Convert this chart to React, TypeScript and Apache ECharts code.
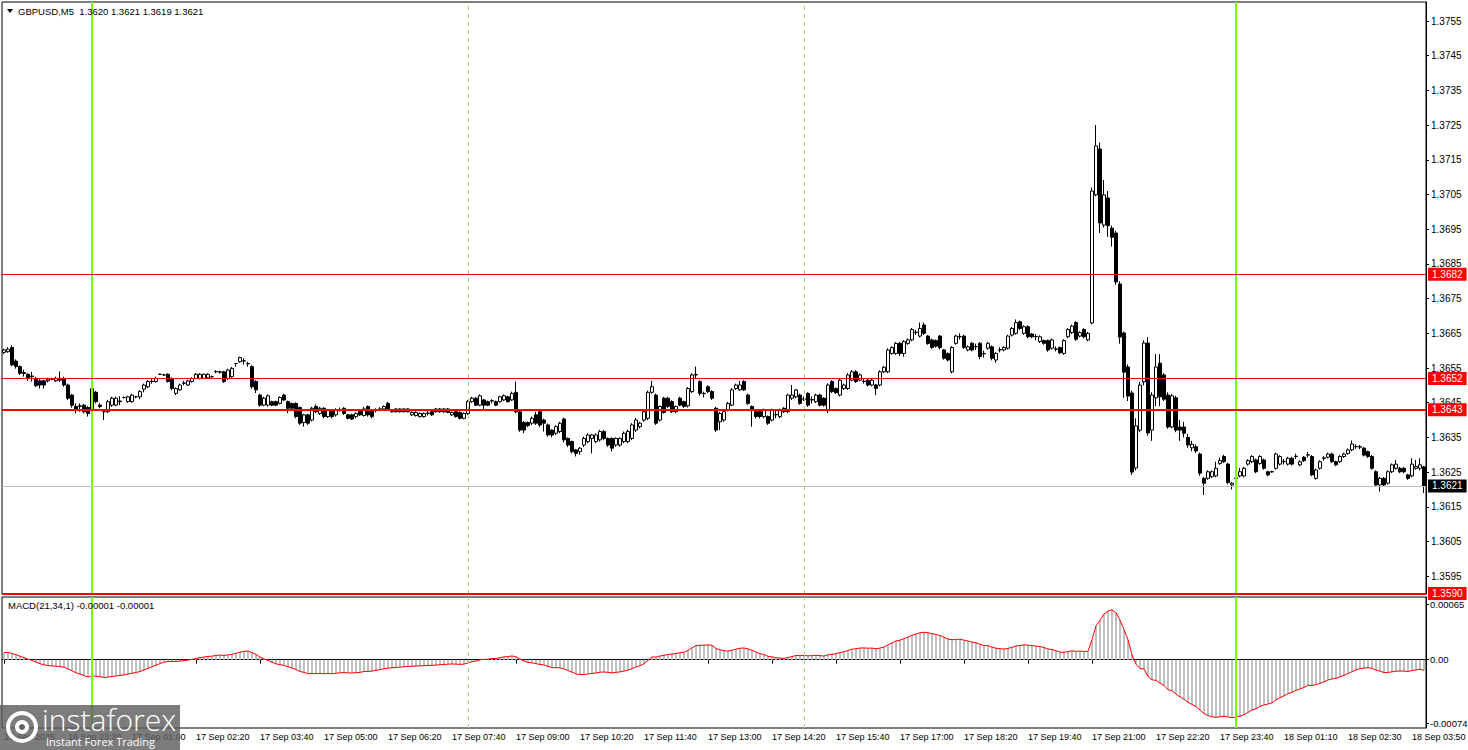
import React, { useEffect, useRef } from "react";
import * as echarts from "echarts";

// [open, close, low, high] per 5-minute bar, GBPUSD M5
const candles: number[][] = [
  [1.36595, 1.36602, 1.3659, 1.36606], [1.36597, 1.36604, 1.36594, 1.3661], [1.36609, 1.36559, 1.36555, 1.36615], [1.3657, 1.36554, 1.36548, 1.36575],
  [1.36554, 1.36535, 1.3653, 1.36558], [1.36537, 1.36534, 1.36525, 1.36545], [1.36532, 1.36522, 1.36513, 1.36535], [1.36525, 1.36527, 1.36511, 1.36539],
  [1.3652, 1.36499, 1.36495, 1.36525], [1.36513, 1.36501, 1.36491, 1.36518], [1.36513, 1.36501, 1.36491, 1.36516], [1.36513, 1.36518, 1.36508, 1.36522],
  [1.36518, 1.36518, 1.36515, 1.36522], [1.36513, 1.3652, 1.3651, 1.36525], [1.3652, 1.36515, 1.3651, 1.3654], [1.3652, 1.36501, 1.36496, 1.36525],
  [1.36501, 1.36463, 1.36458, 1.36505], [1.36472, 1.36443, 1.36436, 1.36475], [1.36439, 1.36432, 1.36419, 1.36448], [1.36441, 1.3644, 1.36424, 1.36448],
  [1.36443, 1.36424, 1.36419, 1.36446], [1.36436, 1.36419, 1.3641, 1.3644], [1.36429, 1.36491, 1.3642, 1.36495], [1.3648, 1.36453, 1.36448, 1.36484],
  [1.36443, 1.36439, 1.36434, 1.36448], [1.36424, 1.36424, 1.364, 1.36426], [1.36424, 1.36453, 1.3642, 1.36458], [1.36443, 1.36463, 1.36438, 1.36467],
  [1.36443, 1.36463, 1.3644, 1.36467], [1.36455, 1.36453, 1.36443, 1.36469], [1.36465, 1.36465, 1.36462, 1.36468], [1.36453, 1.36467, 1.3645, 1.3647],
  [1.36453, 1.36472, 1.3645, 1.36476], [1.36467, 1.36467, 1.36463, 1.3647], [1.36467, 1.36482, 1.3646, 1.36486], [1.36489, 1.36501, 1.3648, 1.36505],
  [1.36496, 1.36511, 1.36492, 1.36515], [1.36511, 1.36512, 1.36505, 1.36518], [1.36511, 1.3652, 1.36508, 1.36525], [1.36532, 1.36532, 1.3653, 1.36534],
  [1.3653, 1.3653, 1.36528, 1.36533], [1.36532, 1.36511, 1.36508, 1.36535], [1.3652, 1.36491, 1.36486, 1.36523], [1.36477, 1.36491, 1.36472, 1.36494],
  [1.36487, 1.36501, 1.36484, 1.36505], [1.36506, 1.36507, 1.365, 1.36513], [1.36501, 1.36513, 1.36498, 1.36516], [1.36511, 1.3652, 1.36508, 1.36523],
  [1.3652, 1.36532, 1.36518, 1.36535], [1.3652, 1.36532, 1.36517, 1.36535], [1.3652, 1.36532, 1.36518, 1.36534], [1.36522, 1.36532, 1.3652, 1.36535],
  [1.36525, 1.36525, 1.36522, 1.36528], [1.36539, 1.3654, 1.36535, 1.36544], [1.36539, 1.36538, 1.36534, 1.36542], [1.36539, 1.36511, 1.36507, 1.36542],
  [1.3652, 1.36544, 1.36515, 1.36548], [1.36525, 1.36549, 1.36522, 1.36553], [1.36563, 1.36563, 1.36554, 1.36565], [1.36568, 1.3658, 1.36565, 1.36583],
  [1.3657, 1.36571, 1.3656, 1.36578], [1.36563, 1.36562, 1.36554, 1.36568], [1.36554, 1.36496, 1.3649, 1.36558], [1.36511, 1.36487, 1.36478, 1.36515],
  [1.36472, 1.36443, 1.36438, 1.36476], [1.36443, 1.36463, 1.3644, 1.36467], [1.36443, 1.3647, 1.36439, 1.36474], [1.36453, 1.36443, 1.3644, 1.36456],
  [1.36453, 1.36443, 1.3644, 1.36456], [1.36448, 1.36465, 1.36445, 1.36468], [1.36472, 1.36458, 1.36455, 1.36476], [1.36453, 1.36434, 1.3642, 1.36456],
  [1.36448, 1.36434, 1.3643, 1.3645], [1.36448, 1.3641, 1.36405, 1.36451], [1.36436, 1.36391, 1.36386, 1.36439], [1.36393, 1.36415, 1.36381, 1.36418],
  [1.36415, 1.36391, 1.36386, 1.36418], [1.364, 1.36434, 1.36396, 1.36438], [1.36439, 1.36424, 1.3642, 1.36445], [1.36419, 1.36434, 1.36415, 1.36438],
  [1.36434, 1.3641, 1.36405, 1.36437], [1.3641, 1.36429, 1.36406, 1.36432], [1.36429, 1.3641, 1.36405, 1.36432], [1.36415, 1.36429, 1.3641, 1.36434],
  [1.36429, 1.3643, 1.36424, 1.36436], [1.36434, 1.36419, 1.36415, 1.36437], [1.36415, 1.36405, 1.36402, 1.36418], [1.36415, 1.36403, 1.364, 1.36418],
  [1.3641, 1.36419, 1.36405, 1.36422], [1.36429, 1.36415, 1.36412, 1.36432], [1.36413, 1.36432, 1.3641, 1.36438], [1.36439, 1.36415, 1.3641, 1.36442],
  [1.36429, 1.3641, 1.36405, 1.36432], [1.36429, 1.3643, 1.36422, 1.36434], [1.36432, 1.36431, 1.36426, 1.36437], [1.36432, 1.36439, 1.36429, 1.36442],
  [1.36448, 1.36432, 1.36429, 1.36452], [1.36424, 1.36424, 1.36422, 1.36426], [1.36432, 1.36424, 1.36422, 1.36434], [1.36432, 1.36424, 1.36422, 1.36434],
  [1.36432, 1.36424, 1.36422, 1.36434], [1.36432, 1.36424, 1.36422, 1.36434], [1.36415, 1.36422, 1.36412, 1.36425], [1.36413, 1.36422, 1.3641, 1.36425],
  [1.3641, 1.36419, 1.36407, 1.36422], [1.3641, 1.36419, 1.36407, 1.36422], [1.36419, 1.3642, 1.36413, 1.36426], [1.36424, 1.36415, 1.36412, 1.36427],
  [1.36432, 1.36424, 1.36421, 1.36435], [1.36432, 1.36424, 1.36421, 1.36435], [1.36432, 1.36424, 1.36421, 1.36435], [1.36432, 1.36422, 1.3642, 1.36435],
  [1.36415, 1.36422, 1.36412, 1.36425], [1.36424, 1.3641, 1.36407, 1.36427], [1.36422, 1.36405, 1.36402, 1.36425], [1.36405, 1.36419, 1.36402, 1.36422],
  [1.36419, 1.36453, 1.36415, 1.36458], [1.36453, 1.36463, 1.3645, 1.36467], [1.36463, 1.36443, 1.3644, 1.36466], [1.36443, 1.3647, 1.3644, 1.36474],
  [1.36458, 1.36443, 1.3643, 1.36461], [1.36453, 1.36443, 1.3644, 1.36456], [1.36455, 1.36456, 1.36448, 1.3646], [1.36453, 1.36443, 1.3644, 1.36456],
  [1.36453, 1.36467, 1.3645, 1.3647], [1.36458, 1.3647, 1.36455, 1.36474], [1.36467, 1.36453, 1.3645, 1.3647], [1.36458, 1.36477, 1.36455, 1.36482],
  [1.3648, 1.36424, 1.3642, 1.36511], [1.36424, 1.36371, 1.36366, 1.36428], [1.36393, 1.36371, 1.36362, 1.36397], [1.36393, 1.36384, 1.3638, 1.36396],
  [1.36391, 1.36405, 1.36386, 1.3641], [1.36415, 1.36391, 1.36386, 1.36424], [1.36424, 1.36386, 1.3638, 1.36428], [1.364, 1.36391, 1.36367, 1.36404],
  [1.36386, 1.36357, 1.36352, 1.3639], [1.36371, 1.36357, 1.3635, 1.36374], [1.36362, 1.36381, 1.36357, 1.36385], [1.36367, 1.36391, 1.36362, 1.36395],
  [1.36403, 1.36343, 1.36335, 1.36407], [1.36347, 1.36328, 1.36322, 1.3635], [1.36338, 1.36309, 1.36304, 1.36341], [1.36314, 1.36304, 1.36295, 1.36317],
  [1.36309, 1.36319, 1.363, 1.36322], [1.36328, 1.36347, 1.36322, 1.36352], [1.36338, 1.36357, 1.36333, 1.36362], [1.36347, 1.36357, 1.36304, 1.3636],
  [1.36338, 1.36357, 1.36333, 1.36362], [1.36343, 1.36367, 1.36338, 1.36372], [1.36367, 1.36347, 1.36342, 1.36372], [1.36347, 1.36328, 1.36323, 1.3635],
  [1.36347, 1.36319, 1.3631, 1.3635], [1.36328, 1.36347, 1.36323, 1.3635], [1.36328, 1.36347, 1.36323, 1.3635], [1.36338, 1.36362, 1.36333, 1.36367],
  [1.36338, 1.36367, 1.36333, 1.36372], [1.36347, 1.36386, 1.36342, 1.36391], [1.36371, 1.364, 1.36366, 1.36406], [1.36381, 1.36391, 1.36376, 1.36395],
  [1.364, 1.36424, 1.36395, 1.36428], [1.36405, 1.3648, 1.364, 1.36485], [1.3648, 1.36496, 1.36476, 1.36513], [1.36472, 1.36391, 1.36386, 1.36476],
  [1.364, 1.36439, 1.36396, 1.36442], [1.36463, 1.36422, 1.36418, 1.36467], [1.36463, 1.36439, 1.36435, 1.36467], [1.36453, 1.36424, 1.3642, 1.36457],
  [1.36424, 1.36439, 1.3642, 1.36442], [1.36463, 1.36443, 1.3644, 1.36467], [1.36453, 1.36439, 1.36435, 1.36456], [1.36441, 1.36491, 1.36436, 1.36495],
  [1.36482, 1.3653, 1.36478, 1.36535], [1.3653, 1.36531, 1.3652, 1.36554], [1.36511, 1.36477, 1.3647, 1.36515], [1.36477, 1.36476, 1.36465, 1.36482],
  [1.36496, 1.36482, 1.36478, 1.365], [1.36482, 1.36463, 1.36458, 1.36486], [1.36434, 1.36371, 1.36366, 1.36438], [1.36395, 1.36419, 1.36371, 1.36424],
  [1.364, 1.36424, 1.36395, 1.36428], [1.36429, 1.36448, 1.36425, 1.36452], [1.36443, 1.36487, 1.3644, 1.36492], [1.36491, 1.36501, 1.36487, 1.36505],
  [1.36487, 1.36501, 1.36484, 1.36513], [1.36511, 1.36487, 1.36484, 1.36515], [1.36472, 1.36448, 1.36444, 1.36476], [1.36439, 1.36429, 1.36381, 1.36442],
  [1.36424, 1.3641, 1.36405, 1.36427], [1.36424, 1.3641, 1.36405, 1.36427], [1.3641, 1.36429, 1.36405, 1.36433], [1.3641, 1.36391, 1.36386, 1.36413],
  [1.364, 1.36429, 1.36396, 1.36433], [1.36415, 1.36416, 1.36405, 1.36429], [1.3641, 1.36429, 1.36405, 1.36433], [1.36434, 1.36424, 1.3642, 1.36437],
  [1.36424, 1.36472, 1.3642, 1.36476], [1.36463, 1.36472, 1.36458, 1.36501], [1.36467, 1.36487, 1.36463, 1.3649], [1.36472, 1.36448, 1.36444, 1.36476],
  [1.36461, 1.3646, 1.36455, 1.36468], [1.36477, 1.36443, 1.36438, 1.3648], [1.36458, 1.36459, 1.36448, 1.36468], [1.36453, 1.36472, 1.36449, 1.36476],
  [1.36472, 1.36443, 1.36439, 1.36476], [1.36463, 1.36443, 1.36439, 1.36466], [1.36429, 1.36501, 1.3642, 1.36506], [1.36511, 1.36482, 1.36478, 1.36515],
  [1.36491, 1.36479, 1.36475, 1.36494], [1.36472, 1.36515, 1.36468, 1.3652], [1.36491, 1.36501, 1.36487, 1.36505], [1.36491, 1.3653, 1.36487, 1.36535],
  [1.36515, 1.36539, 1.36512, 1.36544], [1.36539, 1.36511, 1.36507, 1.36544], [1.36515, 1.3653, 1.36512, 1.36534], [1.36511, 1.36512, 1.36505, 1.36518],
  [1.36515, 1.36501, 1.36497, 1.36518], [1.36501, 1.36515, 1.36497, 1.36519], [1.36501, 1.36491, 1.36472, 1.36504], [1.36501, 1.36539, 1.36497, 1.36543],
  [1.36539, 1.36552, 1.36535, 1.36556], [1.36539, 1.36602, 1.36535, 1.36607], [1.36592, 1.36609, 1.36588, 1.36613], [1.36592, 1.36621, 1.36588, 1.36625],
  [1.36621, 1.36592, 1.36585, 1.36625], [1.36592, 1.36626, 1.36582, 1.3663], [1.36621, 1.36631, 1.36617, 1.36635], [1.36631, 1.36661, 1.36627, 1.36665],
  [1.36652, 1.36653, 1.36645, 1.3666], [1.36642, 1.36664, 1.36638, 1.36681], [1.36674, 1.3665, 1.36645, 1.36681], [1.36642, 1.36621, 1.36617, 1.36645],
  [1.36631, 1.36609, 1.36605, 1.36635], [1.36629, 1.36613, 1.36609, 1.36632], [1.36642, 1.36609, 1.36604, 1.36645], [1.36602, 1.36578, 1.36574, 1.36605],
  [1.36592, 1.36573, 1.36569, 1.36595], [1.36539, 1.36609, 1.36535, 1.36613], [1.36621, 1.36642, 1.36617, 1.36646], [1.3664, 1.36641, 1.36632, 1.3665],
  [1.36642, 1.36609, 1.36605, 1.36646], [1.36602, 1.36611, 1.36598, 1.36615], [1.36621, 1.36602, 1.36598, 1.36625], [1.36611, 1.36612, 1.36602, 1.3662],
  [1.36621, 1.36583, 1.36575, 1.36625], [1.36592, 1.36591, 1.3658, 1.366], [1.36607, 1.36621, 1.36603, 1.36625], [1.36611, 1.36578, 1.36572, 1.36615],
  [1.36573, 1.36592, 1.36565, 1.36596], [1.36602, 1.36603, 1.36595, 1.3661], [1.36602, 1.36609, 1.36598, 1.36613], [1.36607, 1.36642, 1.36603, 1.36646],
  [1.36645, 1.36664, 1.36641, 1.36668], [1.3665, 1.36681, 1.36646, 1.3669], [1.36683, 1.36664, 1.3666, 1.36687], [1.3665, 1.36669, 1.36646, 1.36673],
  [1.36669, 1.3664, 1.36636, 1.36673], [1.36648, 1.3664, 1.36636, 1.36651], [1.3664, 1.36641, 1.3663, 1.36648], [1.36626, 1.3664, 1.36622, 1.36644],
  [1.36629, 1.36621, 1.36617, 1.36632], [1.36629, 1.36602, 1.36597, 1.36632], [1.36607, 1.36631, 1.36603, 1.36635], [1.36604, 1.36605, 1.36598, 1.36612],
  [1.36609, 1.36594, 1.3659, 1.36612], [1.36592, 1.36629, 1.36588, 1.36633], [1.3664, 1.36661, 1.36636, 1.36665], [1.36652, 1.36671, 1.36648, 1.36675],
  [1.36681, 1.36633, 1.36628, 1.36685], [1.36642, 1.36652, 1.36638, 1.36656], [1.36661, 1.3664, 1.36636, 1.36665], [1.36631, 1.3665, 1.36627, 1.36654],
  [1.3668, 1.3706, 1.36676, 1.3707], [1.37049, 1.3719, 1.37045, 1.3725], [1.37181, 1.36968, 1.36939, 1.372], [1.36962, 1.37049, 1.36955, 1.37092],
  [1.3704, 1.3696, 1.36928, 1.3706], [1.36953, 1.36927, 1.369, 1.3696], [1.36939, 1.36798, 1.3679, 1.36945], [1.36792, 1.36639, 1.3662, 1.368],
  [1.36651, 1.36538, 1.36464, 1.36655], [1.36553, 1.36469, 1.36455, 1.3656], [1.36478, 1.3625, 1.36242, 1.36485], [1.36262, 1.36383, 1.36255, 1.36405],
  [1.36371, 1.36501, 1.36365, 1.3651], [1.3651, 1.36622, 1.365, 1.3663], [1.36622, 1.36363, 1.36355, 1.36639], [1.36371, 1.36472, 1.3634, 1.3648],
  [1.36464, 1.36553, 1.3644, 1.3659], [1.36564, 1.36467, 1.3644, 1.3659], [1.3653, 1.3646, 1.36455, 1.36535], [1.36472, 1.3638, 1.36375, 1.3648],
  [1.3638, 1.3647, 1.36376, 1.36475], [1.36464, 1.36371, 1.36365, 1.3647], [1.3638, 1.36371, 1.3634, 1.364], [1.3638, 1.36362, 1.3635, 1.36395],
  [1.3635, 1.36328, 1.3632, 1.3636], [1.3632, 1.3633, 1.3631, 1.3634], [1.36323, 1.36311, 1.36305, 1.3633], [1.36302, 1.36247, 1.3624, 1.36306],
  [1.36232, 1.36218, 1.36184, 1.36236], [1.36232, 1.36251, 1.36228, 1.36255], [1.36237, 1.36251, 1.36233, 1.36255], [1.36239, 1.36261, 1.36235, 1.3628],
  [1.36275, 1.36283, 1.36271, 1.36292], [1.36295, 1.3628, 1.36276, 1.363], [1.36273, 1.3622, 1.36215, 1.36277], [1.36213, 1.36218, 1.362, 1.36222],
  [1.36232, 1.36233, 1.36228, 1.36236], [1.36239, 1.36251, 1.36235, 1.36262], [1.36239, 1.36261, 1.36235, 1.36265], [1.36273, 1.36283, 1.36269, 1.36287],
  [1.3628, 1.36295, 1.36276, 1.36299], [1.36285, 1.36251, 1.36247, 1.36289], [1.36275, 1.36295, 1.36271, 1.36299], [1.36285, 1.36261, 1.36257, 1.36289],
  [1.36251, 1.36242, 1.36238, 1.36254], [1.36251, 1.36251, 1.36248, 1.36254], [1.36261, 1.36302, 1.36257, 1.36306], [1.36273, 1.36295, 1.36269, 1.36299],
  [1.3628, 1.36281, 1.36272, 1.36288], [1.36273, 1.3629, 1.36269, 1.36294], [1.3629, 1.36273, 1.36269, 1.36294], [1.36295, 1.36296, 1.36288, 1.36303],
  [1.36271, 1.3628, 1.36267, 1.36284], [1.36293, 1.36283, 1.36279, 1.36296], [1.36299, 1.363, 1.36292, 1.36308], [1.36295, 1.36242, 1.36238, 1.36299],
  [1.36232, 1.36256, 1.36228, 1.3626], [1.36261, 1.3628, 1.36257, 1.36284], [1.3629, 1.36291, 1.36283, 1.36296], [1.36293, 1.36302, 1.36289, 1.36306],
  [1.36302, 1.3628, 1.36276, 1.36306], [1.3628, 1.36271, 1.36267, 1.36283], [1.3628, 1.36295, 1.36276, 1.36299], [1.36295, 1.36302, 1.36291, 1.36306],
  [1.36304, 1.36314, 1.363, 1.36318], [1.36314, 1.36331, 1.3631, 1.36341], [1.36323, 1.36324, 1.36317, 1.3633], [1.36323, 1.36322, 1.36316, 1.36328],
  [1.36319, 1.36299, 1.36295, 1.36322], [1.36309, 1.36295, 1.36291, 1.36312], [1.36295, 1.36261, 1.36257, 1.36299], [1.36251, 1.36213, 1.36209, 1.36255],
  [1.36213, 1.36232, 1.36194, 1.36236], [1.36232, 1.36213, 1.36209, 1.36236], [1.36218, 1.36251, 1.36214, 1.36255], [1.36251, 1.36271, 1.36247, 1.36275],
  [1.36261, 1.36273, 1.36257, 1.36285], [1.36261, 1.36251, 1.36247, 1.36265], [1.36261, 1.36251, 1.36247, 1.36265], [1.36242, 1.36232, 1.36228, 1.36245],
  [1.36239, 1.36273, 1.36235, 1.3629], [1.36261, 1.36266, 1.36257, 1.36285], [1.36261, 1.36271, 1.36255, 1.3629], [1.36265, 1.3621, 1.3619, 1.36268],
];

const timeTickLabels = [
  "16 Sep 2025", "16 Sep 23:30", "17 Sep 01:00", "17 Sep 02:20", "17 Sep 03:40", "17 Sep 05:00",
  "17 Sep 06:20", "17 Sep 07:40", "17 Sep 09:00", "17 Sep 10:20", "17 Sep 11:40", "17 Sep 13:00",
  "17 Sep 14:20", "17 Sep 15:40", "17 Sep 17:00", "17 Sep 18:20", "17 Sep 19:40", "17 Sep 21:00",
  "17 Sep 22:20", "17 Sep 23:40", "18 Sep 01:10", "18 Sep 02:30", "18 Sep 03:50",
];
const barsPerTick = 16;

const priceTicks = [1.3595, 1.3605, 1.3615, 1.3625, 1.3635, 1.3645, 1.3655, 1.3665, 1.3675, 1.3685, 1.3695, 1.3705, 1.3715, 1.3725, 1.3735, 1.3745, 1.3755];
const levelValues = [1.3682, 1.3652, 1.3643, 1.359];
const levelWidths = [1, 1, 2, 2];
const bidPrice = 1.3621;
const dayStartBars = [22, 308];
const sessionBars = [116, 200];
const macdTicks = [0.00065, 0, -0.00074];
const macdFast = 21;
const macdSlow = 34;
const emaFastSeed = 1.3658;
const emaSlowSeed = 1.36572;

const FONT = "'Liberation Sans', 'DejaVu Sans', sans-serif";

export default function App() {
  const ref = useRef<HTMLDivElement>(null);
  useEffect(() => {
    if (!ref.current) return;
    const chart = echarts.init(ref.current, undefined, { renderer: "svg" });
    const cats = candles.map((_, i) => String(i));
    const aF = 2 / (macdFast + 1);
    const aS = 2 / (macdSlow + 1);
    let eF = emaFastSeed;
    let eS = emaSlowSeed;
    const macd = candles.map((c) => {
      eF = eF + aF * (c[1] - eF);
      eS = eS + aS * (c[1] - eS);
      return +(eF - eS).toFixed(6);
    });

    const priceLabel = (text: string, bg: string) => ({
      show: true, position: "end", formatter: text, color: "#fff",
      backgroundColor: bg, padding: [2, 4, 1, 4], fontSize: 10, fontFamily: FONT, distance: 2,
    });
    const levelLines = levelValues.map((v, k) => ({
      yAxis: v,
      lineStyle: { color: "#ff0000", width: levelWidths[k], type: "solid" },
      label: priceLabel(v.toFixed(4), "#ff0000"),
    }));
    const bidLine = {
      yAxis: bidPrice,
      lineStyle: { color: "#c0c0c0", width: 1, type: "solid" },
      label: priceLabel(bidPrice.toFixed(4), "#000000"),
    };
    const vLines = () => [
      ...sessionBars.map((b) => ({ xAxis: String(b), lineStyle: { color: "#a8d878", width: 1, type: [4, 4] }, label: { show: false } })),
      ...dayStartBars.map((b) => ({ xAxis: String(b), lineStyle: { color: "#7cfc00", width: 2, type: "solid" }, label: { show: false } })),
    ];

    const option: any = {
      animation: false,
      backgroundColor: "#ffffff",
      textStyle: { fontFamily: FONT },
      grid: [
        { left: 2, right: 42, top: 2, height: 592, show: true, borderColor: "#000", borderWidth: 1, backgroundColor: "#fff", containLabel: false, outerBoundsMode: "none" },
        { left: 2, right: 42, top: 597, height: 131, show: true, borderColor: "#000", borderWidth: 1, backgroundColor: "#fff", containLabel: false, outerBoundsMode: "none" },
      ],
      xAxis: [
        { type: "category", gridIndex: 0, data: cats, boundaryGap: true, axisLine: { show: false }, axisTick: { show: false }, axisLabel: { show: false }, splitLine: { show: false } },
        {
          type: "category", gridIndex: 1, data: cats, boundaryGap: true,
          axisLine: { show: true, lineStyle: { color: "#000", width: 1 } },
          axisTick: { show: true, alignWithLabel: true, length: 4, interval: (i: number) => i % barsPerTick === 0, lineStyle: { color: "#000" } },
          axisLabel: {
            show: true, interval: (i: number) => i % barsPerTick === 0, align: "left", margin: 4,
            fontSize: 9, color: "#000", fontFamily: FONT,
            formatter: (_v: string, i: number) => timeTickLabels[Math.floor(i / barsPerTick)] || "",
          },
          splitLine: { show: false },
        },
      ],
      yAxis: [
        {
          type: "value", gridIndex: 0, position: "right", min: 1.358987, max: 1.376048,
          axisLine: { show: true, lineStyle: { color: "#000" } },
          axisTick: { show: true, length: 3, customValues: priceTicks, lineStyle: { color: "#000" } },
          axisLabel: { show: true, customValues: priceTicks, formatter: (v: number) => v.toFixed(4), fontSize: 10, color: "#000", margin: 5, fontFamily: FONT },
          splitLine: { show: false },
        },
        {
          type: "value", gridIndex: 1, position: "right", min: -0.000798, max: 0.000732,
          axisLine: { show: true, lineStyle: { color: "#000" } },
          axisTick: { show: true, length: 3, customValues: macdTicks, lineStyle: { color: "#000" } },
          axisLabel: {
            show: true, customValues: macdTicks, fontSize: 9.5, color: "#000", margin: 4, fontFamily: FONT,
            formatter: (v: number) => (Math.abs(v) < 1e-9 ? "0.00" : v.toFixed(5)),
          },
          splitLine: { show: false },
        },
      ],
      series: [
        {
          type: "candlestick", xAxisIndex: 0, yAxisIndex: 0, data: candles, barWidth: 3,
          itemStyle: { color: "#ffffff", color0: "#000000", borderColor: "#000000", borderColor0: "#000000", borderWidth: 1 },
          markLine: { silent: true, symbol: ["none", "none"], precision: 5, animation: false, data: [...vLines(), bidLine, ...levelLines] },
          z: 3,
        },
        {
          type: "bar", xAxisIndex: 1, yAxisIndex: 1, data: macd, barWidth: 2,
          itemStyle: { color: "#c0c0c0" },
        },
        {
          type: "line", xAxisIndex: 1, yAxisIndex: 1, data: macd, symbol: "none",
          lineStyle: { color: "#ff0000", width: 1 }, z: 4,
          markLine: { silent: true, symbol: ["none", "none"], precision: 6, animation: false, data: vLines() },
        },
      ],
      graphic: [
        { type: "polygon", shape: { points: [[7, 9], [13, 9], [10, 13]] }, style: { fill: "#000" }, z: 10 },
        { type: "text", left: 18, top: 6, style: { text: "GBPUSD,M5  1.3620 1.3621 1.3619 1.3621", fontSize: 9.5, fill: "#000", fontFamily: FONT }, z: 10 },
        { type: "text", left: 8, top: 600, style: { text: "MACD(21,34,1) -0.00001 -0.00001", fontSize: 9.5, fill: "#000", fontFamily: FONT }, z: 10 },
        { type: "rect", shape: { x: 0, y: 705, width: 180, height: 45 }, style: { fill: "rgba(95,95,95,0.82)" }, z: 20 },
        { type: "ring", shape: { cx: 22, cy: 727, r: 16, r0: 12 }, style: { fill: "#ffffff" }, z: 21 },
        { type: "circle", shape: { cx: 22, cy: 727, r: 7 }, style: { fill: "#ffffff" }, z: 21 },
        { type: "circle", shape: { cx: 22, cy: 727, r: 3 }, style: { fill: "rgba(95,95,95,1)" }, z: 22 },
        { type: "text", left: 42, top: 704, style: { text: "instaforex", fontSize: 30, fill: "#ffffff", fontFamily: "'Open Sans', sans-serif", fontWeight: 300 }, z: 21 },
        { type: "text", left: 46, top: 736, style: { text: "Instant Forex Trading", fontSize: 11, fill: "#ffffff", fontFamily: "'Open Sans', sans-serif" }, z: 21 },
      ],
    };
    chart.setOption(option);
    return () => chart.dispose();
  }, []);
  return <div ref={ref} style={{ position: "fixed", left: 0, top: 0, width: 1468, height: 750, background: "#fff" }} />;
}
